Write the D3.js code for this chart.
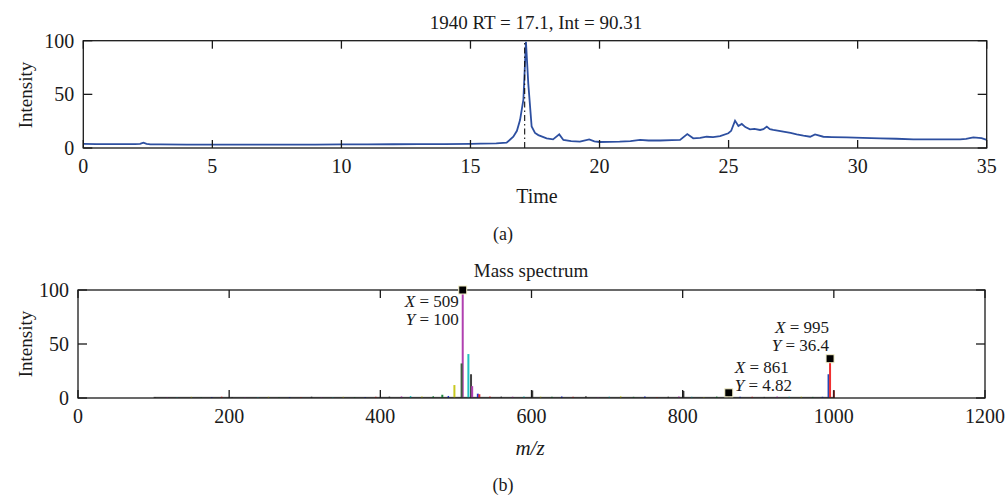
<!DOCTYPE html>
<html>
<head>
<meta charset="utf-8">
<script src="https://cdn.jsdelivr.net/npm/d3@7/dist/d3.min.js"></script>
<style>
  body { margin: 0; background: #fff; }
  svg text { font-family: "Liberation Serif", "DejaVu Serif", serif; fill: #1a1a1a; }
</style>
</head>
<body>
<svg width="1007" height="495"></svg>
<script>
// chromatogram (a)
var rtTime = [0, 0.5, 1, 1.5, 2, 2.2, 2.33, 2.45, 2.6, 3, 4, 5, 6, 7, 8, 9, 10, 11, 12, 13, 14, 15, 15.4, 16, 16.4, 16.66, 16.8, 16.92, 17.05, 17.15, 17.24, 17.37, 17.5, 17.63, 17.95, 18.2, 18.44, 18.6, 18.9, 19.24, 19.6, 19.8, 20.0, 20.4, 20.78, 21.2, 21.57, 21.9, 22.35, 22.8, 23.12, 23.4, 23.63, 23.9, 24.15, 24.4, 24.67, 24.99, 25.1, 25.25, 25.38, 25.51, 25.65, 25.83, 26.0, 26.22, 26.35, 26.48, 26.6, 26.73, 26.9, 27.12, 27.4, 27.64, 27.9, 28.16, 28.35, 28.67, 29.0, 29.58, 30.2, 30.87, 31.5, 32.16, 33.0, 33.97, 34.2, 34.48, 34.8, 35];
var rtInt  = [3.8, 3.7, 3.7, 3.6, 3.6, 3.8, 5.0, 3.9, 3.4, 3.3, 3.2, 3.1, 3.1, 3.1, 3.1, 3.2, 3.3, 3.4, 3.5, 3.6, 3.7, 3.9, 4.0, 4.3, 4.9, 10.5, 16, 26, 45, 99, 60, 20, 14, 12, 9, 8, 12.7, 7.5, 6.5, 5.9, 8, 6.2, 5.6, 5.7, 5.9, 6.5, 7.5, 7.0, 7.0, 7.3, 7.5, 13, 9, 9.5, 10.5, 10.2, 11, 13.7, 16, 25.5, 20.5, 22.4, 19.5, 17.4, 17.8, 16.8, 17.5, 19.9, 17.5, 16.8, 16.2, 15.2, 14, 12.7, 11.5, 10.5, 12.7, 10.5, 10.2, 9.9, 9.4, 9, 8.6, 8, 8, 8, 8.6, 9.9, 9.2, 7.5];
var rtMark = 17.1;
var rtTicks = [0, 5, 10, 15, 20, 25, 30, 35];
var intTicks = [0, 50, 100];

// mass spectrum (b)
var bigMz  = [498, 482, 509, 507.5, 516.5, 520, 521.5, 529, 531, 601, 801, 861, 993, 995, 1000];
var bigInt = [12, 3, 100, 32, 40.7, 22, 11, 4, 3.5, 7, 6.5, 4.82, 22, 36.4, 7];
var bigCol = ["#c8c820", "#208a40", "#b040b0", "#406040", "#20c0c0", "#404040", "#b040b0", "#2030d0", "#e03030", "#404040", "#404040", "#404040", "#2848b0", "#f03030", "#e03030"];
var noiseMz  = [102, 118, 131, 150, 163, 177, 190, 204, 221, 238, 252, 266, 280, 295, 309, 322, 337, 351, 366, 380, 394, 412, 428, 440, 455, 470, 490, 545, 560, 575, 590, 612, 627, 640, 655, 672, 688, 703, 718, 735, 750, 766, 781, 795, 812, 828, 845, 876, 892, 908, 925, 941, 957, 972, 985];
var noiseInt = [0.8, 1.0, 0.7, 1.1, 0.8, 0.9, 1.2, 0.8, 1.0, 0.9, 1.1, 0.8, 0.9, 1.0, 1.2, 0.9, 0.8, 1.1, 0.9, 1.0, 1.2, 1.3, 1.5, 1.8, 1.4, 1.6, 1.9, 1.5, 1.3, 1.2, 1.5, 1.2, 1.1, 1.4, 1.1, 1.6, 1.0, 1.2, 1.5, 1.1, 1.3, 1.0, 1.2, 1.4, 1.1, 1.0, 1.3, 1.1, 1.2, 1.0, 1.3, 1.1, 1.2, 1.0, 1.1];
var noiseCol = ["#404040", "#b040b0", "#20c0c0", "#c8c820", "#208a40", "#2030d0", "#e03030"];
var baseRange = [100, 1000];
var tips = [
  {mz: 509, y: 100, lines: ["509", "100"], anchor: "end", dx: -4, dy: 17},
  {mz: 861, y: 4.82, lines: ["861", "4.82"], anchor: "start", dx: 6, dy: -20},
  {mz: 995, y: 36.4, lines: ["995", "36.4"], anchor: "end", dx: -1, dy: -26}
];
var mzTicks = [0, 200, 400, 600, 800, 1000, 1200];

var svg = d3.select("svg");
var ink = "#1a1a1a";

function frame(g, x, y, xt, yt) {
  var x0 = x.range()[0], x1 = x.range()[1], y0 = y.range()[0], y1 = y.range()[1];
  g.append("rect").attr("x", x0).attr("y", y1).attr("width", x1 - x0).attr("height", y0 - y1)
    .attr("fill", "none").attr("stroke", ink).attr("stroke-width", 1.3);
  xt.forEach(function(t) {
    g.append("line").attr("x1", x(t)).attr("x2", x(t)).attr("y1", y0).attr("y2", y0 - 8).attr("stroke", ink).attr("stroke-width", 1.3);
    g.append("line").attr("x1", x(t)).attr("x2", x(t)).attr("y1", y1).attr("y2", y1 + 8).attr("stroke", ink).attr("stroke-width", 1.3);
    g.append("text").attr("x", x(t)).attr("y", y0 + 25).attr("text-anchor", "middle").attr("font-size", 20).text(t);
  });
  yt.forEach(function(t) {
    g.append("line").attr("x1", x0).attr("x2", x0 + 9).attr("y1", y(t)).attr("y2", y(t)).attr("stroke", ink).attr("stroke-width", 1.3);
    g.append("line").attr("x1", x1).attr("x2", x1 - 9).attr("y1", y(t)).attr("y2", y(t)).attr("stroke", ink).attr("stroke-width", 1.3);
    g.append("text").attr("x", x0 - 9).attr("y", y(t) + 7).attr("text-anchor", "end").attr("font-size", 20).text(t);
  });
}

// ---- (a)
var xa = d3.scaleLinear().domain([0, 35]).range([83.3, 986.7]);
var ya = d3.scaleLinear().domain([0, 100]).range([148, 40.7]);
var ga = svg.append("g");

ga.append("path")
  .datum(d3.zip(rtTime, rtInt))
  .attr("fill", "none").attr("stroke", "#2d4fa0").attr("stroke-width", 1.8)
  .attr("d", d3.line().x(d => xa(d[0])).y(d => ya(d[1])));

ga.append("line").attr("x1", xa(rtMark)).attr("x2", xa(rtMark)).attr("y1", ya(0)).attr("y2", ya(100))
  .attr("stroke", "#111").attr("stroke-width", 1.1).attr("stroke-dasharray", "6,3,1.5,3");

frame(ga, xa, ya, rtTicks, intTicks);

ga.append("text").attr("x", 536).attr("y", 29).attr("text-anchor", "middle").attr("font-size", 19)
  .text("1940 RT = 17.1, Int = 90.31");
ga.append("text").attr("x", 537).attr("y", 203).attr("text-anchor", "middle").attr("font-size", 20).text("Time");
ga.append("text").attr("x", 503).attr("y", 240).attr("text-anchor", "middle").attr("font-size", 18).text("(a)");
ga.append("text").attr("transform", "translate(32,95) rotate(-90)").attr("text-anchor", "middle").attr("font-size", 19).text("Intensity");

// ---- (b)
var xb = d3.scaleLinear().domain([0, 1200]).range([78, 985]);
var yb = d3.scaleLinear().domain([0, 100]).range([398, 290]);
var gb = svg.append("g");

gb.append("line").attr("x1", xb(baseRange[0])).attr("x2", xb(baseRange[1]))
  .attr("y1", yb(0.6)).attr("y2", yb(0.6)).attr("stroke", "#555").attr("stroke-width", 1);

gb.selectAll("line.noise").data(d3.zip(noiseMz, noiseInt)).enter().append("line")
  .attr("class", "noise")
  .attr("x1", d => xb(d[0])).attr("x2", d => xb(d[0]))
  .attr("y1", yb(0)).attr("y2", d => yb(d[1]))
  .attr("stroke", (d, i) => noiseCol[i % noiseCol.length]).attr("stroke-width", 1.5);

gb.selectAll("line.peak").data(d3.zip(bigMz, bigInt, bigCol)).enter().append("line")
  .attr("class", "peak")
  .attr("x1", d => xb(d[0])).attr("x2", d => xb(d[0]))
  .attr("y1", yb(0)).attr("y2", d => yb(d[1]))
  .attr("stroke", d => d[2]).attr("stroke-width", 2);

frame(gb, xb, yb, mzTicks, intTicks);

tips.forEach(function(t) {
  gb.append("rect").attr("x", xb(t.mz) - 4).attr("y", yb(t.y) - 4).attr("width", 8).attr("height", 8)
    .attr("fill", "#000").attr("stroke", "#f4f0c8").attr("stroke-width", 1);
  var tx = gb.append("text").attr("x", xb(t.mz) + t.dx).attr("y", yb(t.y) + t.dy)
    .attr("text-anchor", t.anchor).attr("font-size", 17);
  tx.append("tspan").attr("font-style", "italic").text("X");
  tx.append("tspan").text(" = " + t.lines[0]);
  var ty = gb.append("text").attr("x", xb(t.mz) + t.dx).attr("y", yb(t.y) + t.dy + 18)
    .attr("text-anchor", t.anchor).attr("font-size", 17);
  ty.append("tspan").attr("font-style", "italic").text("Y");
  ty.append("tspan").text(" = " + t.lines[1]);
});

gb.append("text").attr("x", 531).attr("y", 277).attr("text-anchor", "middle").attr("font-size", 19).text("Mass spectrum");
gb.append("text").attr("x", 530).attr("y", 455).attr("text-anchor", "middle").attr("font-size", 21).attr("font-style", "italic").text("m/z");
gb.append("text").attr("x", 503).attr("y", 491).attr("text-anchor", "middle").attr("font-size", 18).text("(b)");
gb.append("text").attr("transform", "translate(32,344) rotate(-90)").attr("text-anchor", "middle").attr("font-size", 19).text("Intensity");
</script>
</body>
</html>
